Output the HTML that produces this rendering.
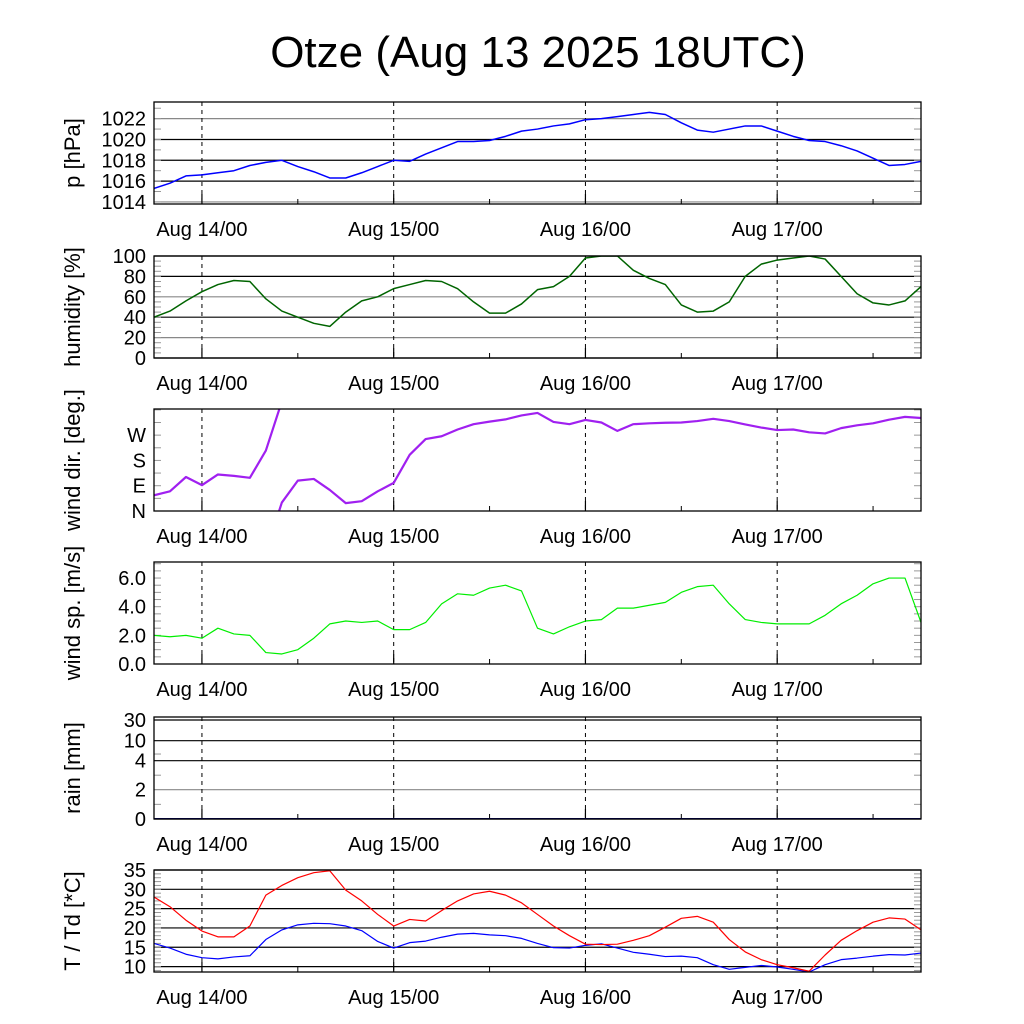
<!DOCTYPE html>
<html><head><meta charset="utf-8"><style>
html,body{margin:0;padding:0;background:#fff;}
svg{display:block;font-family:"Liberation Sans",Arial,sans-serif;}
</style></head><body>
<svg id="chart" width="1024" height="1024" viewBox="0 0 1024 1024" xmlns="http://www.w3.org/2000/svg">
<text x="538" y="67" font-size="44" text-anchor="middle">Otze (Aug 13 2025 18UTC)</text>
</svg>
<script>
// hours since Aug 13 18UTC, every 2h from 0 to 96
const hours = [];
for (let h = 0; h <= 96; h += 2) hours.push(h);
const pressure = [1015.3,1015.8,1016.5,1016.6,1016.8,1017.0,1017.5,1017.8,1018.0,1017.4,1016.9,1016.3,1016.3,1016.8,1017.4,1018.0,1017.9,1018.6,1019.2,1019.8,1019.8,1019.9,1020.3,1020.8,1021.0,1021.3,1021.5,1021.9,1022.0,1022.2,1022.4,1022.6,1022.4,1021.6,1020.9,1020.7,1021.0,1021.3,1021.3,1020.8,1020.3,1019.9,1019.8,1019.4,1018.9,1018.2,1017.5,1017.6,1017.9];
const humidity = [40,46,56,65,72,76,75,58,46,40,34,31,45,56,60,68,72,76,75,68,55,44,44,53,67,70,80,98,100,100,86,78,72,52,45,46,55,80,92,96,98,100,97,80,63,54,52,56,70];
const windDir = [56,70,121,92,130,125,118,215,30,108,114,75,28,35,70,100,200,256,266,290,309,318,326,340,349,317,309,324,315,285,309,312,314,315,320,328,320,308,297,288,290,280,276,295,305,312,325,335,331];
const windSpeed = [2.0,1.9,2.0,1.8,2.5,2.1,2.0,0.8,0.7,1.0,1.8,2.8,3.0,2.9,3.0,2.4,2.4,2.9,4.2,4.9,4.8,5.3,5.5,5.1,2.5,2.1,2.6,3.0,3.1,3.9,3.9,4.1,4.3,5.0,5.4,5.5,4.2,3.1,2.9,2.8,2.8,2.8,3.4,4.2,4.8,5.6,6.0,6.0,2.9];
const rain = hours.map(() => 0);
const temp = [28,25.5,22,19.2,17.7,17.7,20.5,28.5,31,33,34.3,34.8,29.8,27,23.5,20.5,22.2,21.8,24.5,27,28.8,29.5,28.5,26.5,23.5,20.5,18,15.8,15.7,15.8,16.8,18,20.2,22.5,23,21.5,17,13.8,11.8,10.5,9.7,8.8,13,16.8,19.3,21.5,22.6,22.3,19.5];
const dewpoint = [16,14.8,13.2,12.3,12.0,12.5,12.8,17,19.5,20.8,21.2,21.1,20.5,19.3,16.5,14.8,16.2,16.6,17.6,18.4,18.6,18.2,18.0,17.3,16,14.9,14.8,15.5,15.9,14.8,13.7,13.2,12.6,12.7,12.3,10.5,9.3,9.8,10.3,9.9,9.3,8.6,10.5,11.8,12.2,12.7,13.1,13.0,13.5];
const dayLabels = ["Aug 14/00","Aug 15/00","Aug 16/00","Aug 17/00"];
const dayHours = [6,30,54,78];

const NS = "http://www.w3.org/2000/svg";
const svg = document.getElementById("chart");
const X0 = 154, X1 = 921;
const xs = h => X0 + (X1 - X0) * h / 96;
function el(tag, attrs, parent) {
  const e = document.createElementNS(NS, tag);
  for (const k in attrs) e.setAttribute(k, attrs[k]);
  (parent || svg).appendChild(e);
  return e;
}
function panel(name, top, ymin, ymax, ticks, grid, title, opts) {
  const bot = top + 102;
  const g = el("g", {});
  
  
  const ys = opts.ys || (v => bot - (v - ymin) / (ymax - ymin) * (bot - top));
  ticks.forEach((t, i) => {
    const y = ys(t.v);
    if (grid) {
      const l = el("line", {x1: X0, x2: X1, y1: y, y2: y, stroke: t.gray ? "#888" : "#000", "stroke-width": 1.2}, g);
      
      
    }
    const tx = el("text", {x: 146, y: y + 7, "font-size": 20, "text-anchor": "end"}, g);
    tx.textContent = t.l;
    
    
  });
  (opts.minor || []).forEach(v => {
    const y = ys(v);
    el("line", {x1: X0, x2: X0 + 7, y1: y, y2: y, stroke: "#999", "stroke-width": 1}, g);
    el("line", {x1: X1 - 7, x2: X1, y1: y, y2: y, stroke: "#999", "stroke-width": 1}, g);
  });
  dayHours.forEach((h, i) => {
    const x = xs(h);
    const dl = el("line", {x1: x, x2: x, y1: top, y2: bot, stroke: "#000", "stroke-width": 1, "stroke-dasharray": "4,4"}, g);
    
    
    el("line", {x1: x, x2: x, y1: bot - 10, y2: bot, stroke: "#000", "stroke-width": 1.2}, g);
    const lb = el("text", {x: x, y: bot + 32, "font-size": 20, "text-anchor": "middle"}, g);
    lb.textContent = dayLabels[i];
    
    
  });
  [18, 42, 66, 90].forEach(h => {
    el("line", {x1: xs(h), x2: xs(h), y1: bot - 5, y2: bot, stroke: "#000", "stroke-width": 1}, g);
  });
  const cy = (top + bot) / 2;
  const tt = el("text", {x: 80, y: cy, "font-size": 22, "text-anchor": "middle", transform: `rotate(-90 80 ${cy})`}, g);
  tt.textContent = title;
  
  
  const clipId = "clip-" + name;
  const cp = el("clipPath", {id: clipId}, g);
  el("rect", {x: X0, y: top, width: X1 - X0, height: bot - top}, cp);
  opts.series.forEach(s => {
    let d = "";
    if (s.wrap) {
      let prev = null;
      s.data.forEach((v, i) => {
        const x = xs(hours[i]);
        if (prev === null) { d += `M${x},${ys(v)}`; }
        else {
          const diff = v - prev.v;
          if (diff < -180) { d += `L${x},${ys(v + 360)}M${prev.x},${ys(prev.v - 360)}L${x},${ys(v)}`; }
          else if (diff > 180) { d += `L${x},${ys(v - 360)}M${prev.x},${ys(prev.v + 360)}L${x},${ys(v)}`; }
          else d += `L${x},${ys(v)}`;
        }
        prev = {v: v, x: x};
      });
    } else {
      s.data.forEach((v, i) => { d += (i ? "L" : "M") + xs(hours[i]) + "," + ys(v); });
    }
    const p = el("path", {d: d, fill: "none", stroke: s.color, "stroke-width": s.w || 1.5, "clip-path": `url(#${clipId})`, "stroke-linejoin": "round"}, g);
    
    
  });
  const fr = el("rect", {x: X0, y: top, width: X1 - X0, height: bot - top, fill: "none", stroke: "#000", "stroke-width": 1.3}, g);
  
  
}
const rng = (a, b, s) => { const r = []; for (let v = a; v <= b + 1e-9; v += s) r.push(v); return r; };

panel("pressure", 102, 1013.8, 1023.6,
  [{v:1014,l:"1014",gray:true},{v:1016,l:"1016"},{v:1018,l:"1018"},{v:1020,l:"1020"},{v:1022,l:"1022",gray:true}], true, "p [hPa]",
  {minor: rng(1014, 1023.5, 1), series: [{name: "pressure-line", data: pressure, color: "#0000ff"}]});
panel("humidity", 256, 0, 100,
  [{v:0,l:"0"},{v:20,l:"20",gray:true},{v:40,l:"40"},{v:60,l:"60",gray:true},{v:80,l:"80"},{v:100,l:"100"}], true, "humidity [%]",
  {minor: rng(0, 100, 5), series: [{name: "humidity-line", data: humidity, color: "#006400"}]});
panel("wind-dir", 409, 0, 363,
  [{v:0,l:"N"},{v:90,l:"E"},{v:180,l:"S"},{v:270,l:"W"}], false, "wind dir. [deg.]",
  {minor: rng(0, 360, 45), series: [{name: "wind-dir-line", data: windDir, color: "#a020f0", w: 2.2, wrap: true}]});
panel("wind-speed", 562, 0, 7.12,
  [{v:0,l:"0.0"},{v:2,l:"2.0"},{v:4,l:"4.0"},{v:6,l:"6.0"}], false, "wind sp. [m/s]",
  {minor: rng(0, 7, 0.5), series: [{name: "wind-speed-line", data: windSpeed, color: "#00ee00", w: 1.2}]});
const rainY = v => v >= 30 ? 720 : v >= 10 ? 740.7 - (v - 10) / 20 * 20.7 : v >= 4 ? 760.7 - (v - 4) / 6 * 20 : v >= 2 ? 789.7 - (v - 2) / 2 * 29 : 819 - v / 2 * 29.3;
panel("rain", 717, 0, 30,
  [{v:0,l:"0"},{v:2,l:"2",gray:true},{v:4,l:"4"},{v:10,l:"10"},{v:30,l:"30"}], true, "rain [mm]",
  {ys: rainY, minor: [1, 3, 6], series: [{name: "rain-line", data: rain, color: "#000080", w: 2}]});
panel("temperature", 870, 8.6, 35,
  [{v:10,l:"10"},{v:15,l:"15"},{v:20,l:"20"},{v:25,l:"25"},{v:30,l:"30"},{v:35,l:"35"}], true, "T / Td [*C]",
  {minor: rng(9, 35, 1), series: [{name: "dewpoint-line", data: dewpoint, color: "#0000ff", w: 1.2}, {name: "temperature-line", data: temp, color: "#ff0000", w: 1.2}]});
</script>
</body></html>
